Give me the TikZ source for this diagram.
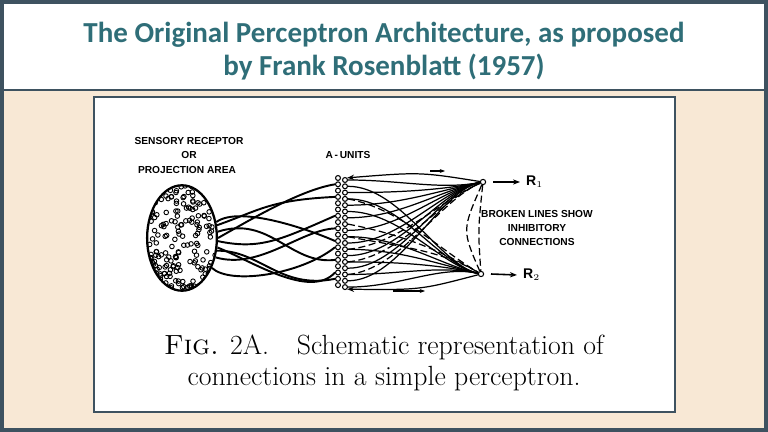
\documentclass[tikz,border=0pt]{standalone}
\usepackage{fontspec}
\newfontfamily\titlefont{Carlito}
\newfontfamily\capfont{Liberation Sans}
\usetikzlibrary{arrows.meta,shapes.geometric}
\definecolor{frame}{HTML}{3E5260}
\definecolor{titlec}{HTML}{2F6E78}
\definecolor{beige}{HTML}{F8E8D5}
\tikzset{
  lbl/.style={font=\capfont\bfseries\fontsize{5.8}{7}\selectfont, align=center, inner sep=0},
  unit/.style={circle, draw, line width=0.6pt, minimum size=2.8pt, inner sep=0},
  wire/.style={line width=1.1pt},
  conn/.style={line width=0.7pt},
  inhib/.style={line width=0.7pt, dash pattern=on 4pt off 2pt},
  outarr/.style={line width=0.9pt, -{Stealth[length=4pt]}}
}
\begin{document}
\begin{tikzpicture}[x=0.02cm,y=-0.02cm]
\useasboundingbox (0,0) rectangle (768,432);
\fill[beige] (0,0) rectangle (768,432);
\fill[white] (2,2) rectangle (766,90);
\draw[frame, line width=1.6pt] (2,90) -- (766,90);
\draw[frame, line width=2.2pt] (2,2) rectangle (766,430);
\node[font=\titlefont\bfseries\fontsize{16.5}{18.5}\selectfont, text=titlec, align=center] (title) at (384,51) {The Original Perceptron Architecture, as proposed\\by Frank Rosenblatt (1957)};
\draw[frame, line width=1.4pt, fill=white] (94,97) rectangle (675,412);
% captions
\node[lbl] (s1) at (189,141) {SENSORY RECEPTOR};
\node[lbl] (s2) at (189,155) {OR};
\node[lbl] (s3) at (187,170) {PROJECTION AREA};
\node[lbl] (au) at (348,155) {A\,-\,UNITS};
\node[lbl] (bl) at (537,228) {BROKEN LINES SHOW\\[1pt]INHIBITORY\\[1pt]CONNECTIONS};
% retina
\node[ellipse, draw, line width=1.3pt, minimum width=39.7pt, minimum height=60pt, inner sep=0] (ret) at (182,238) {};
\begin{scope}
\clip (182,238) ellipse [x radius=34, y radius=52];
\pgfmathsetseed{7}
\foreach \i in {1,...,200} {
  \pgfmathsetmacro\px{147+70*rnd}
  \pgfmathsetmacro\py{185+106*rnd}
  \draw[line width=0.5pt] (\px,\py) circle [radius=2.3];
}
\end{scope}
% A units
\foreach \k in {0,...,17} {
  \node[unit] (a\k) at (338,{178+\k*6.3}) {};
  \node[unit] (b\k) at (345,{180+\k*6.3}) {};
}
% R units
\node[unit, minimum size=3pt] (r1) at (483,182) {};
\node[unit, minimum size=3pt] (r2) at (481,274) {};
\coordinate (r1e) at (520,182);
\coordinate (r2e) at (517,275);
\draw[outarr] (r1) ++(10,0) -- (r1e);
\draw[outarr] (r2) ++(10,0) -- (r2e);
\node[font=\capfont\bfseries\fontsize{8}{9}\selectfont, anchor=west] (l1) at (r1e) {R$_{\scriptscriptstyle1}$};
\node[font=\capfont\bfseries\fontsize{8}{9}\selectfont, anchor=west] (l2) at (r2e) {R$_{\scriptscriptstyle2}$};
% wires retina -> A
\draw[wire] (ret.20) .. controls (260,210) and (270,200) .. (a3.west);
\draw[wire] (ret.10) .. controls (270,215) and (290,265) .. (a13.west);
\draw[wire] (ret.0) .. controls (250,220) and (300,190) .. (a1.west);
\draw[wire] (ret.-5) .. controls (260,250) and (280,240) .. (a6.west);
\draw[wire] (ret.-20) .. controls (260,250) and (280,290) .. (a16.west);
\draw[wire] (ret.-30) .. controls (260,270) and (300,230) .. (a8.west);
\draw[wire] (ret.-45) .. controls (230,285) and (300,275) .. (a11.west);
\draw[wire] (ret.-15) .. controls (250,260) and (310,300) .. (a15.west);
\draw[wire] (ret.25) .. controls (240,205) and (310,230) .. (a10.west);
% A -> R connections
\foreach \k in {0,2,4,6,8,10,12,14,16} {
  \draw[conn] (b\k.east) .. controls (400,{180+\k*6.3}) and (440,190) .. (r1);
}
\foreach \k in {1,3,5,9,11,13,15,17} {
  \draw[conn] (b\k.east) .. controls (400,{180+\k*6.3}) and (440,265) .. (r2);
}
\foreach \k in {3,7,9} {
  \draw[inhib] (b\k.east) .. controls (400,{190+\k*6.3}) and (440,250) .. (r2);
}
\foreach \k in {11,13,15} {
  \draw[inhib] (b\k.east) .. controls (400,{175+\k*6.3}) and (440,200) .. (r1);
}
% feedback
\draw[conn, -{Stealth[length=4pt]}] (r1) .. controls (420,172) .. (b0.north east);
\draw[conn, -{Stealth[length=4pt]}] (r2) .. controls (420,290) .. (b17.south east);
\draw[inhib] (r1) .. controls (462,230) .. (r2);
\draw[inhib] (r1) .. controls (478,230) .. (r2);
\draw[conn, -{Stealth[length=3pt]}] (430,171) -- (445,171);
\draw[conn, -{Stealth[length=3pt]}] (393,291) -- (425,291);
% figure caption
\node[font=\fontsize{15.8}{18}\selectfont, align=center] (figcap) at (384,363) {\textsc{Fig.} 2A.\quad Schematic representation of\\connections in a simple perceptron.};
\end{tikzpicture}
\end{document}
